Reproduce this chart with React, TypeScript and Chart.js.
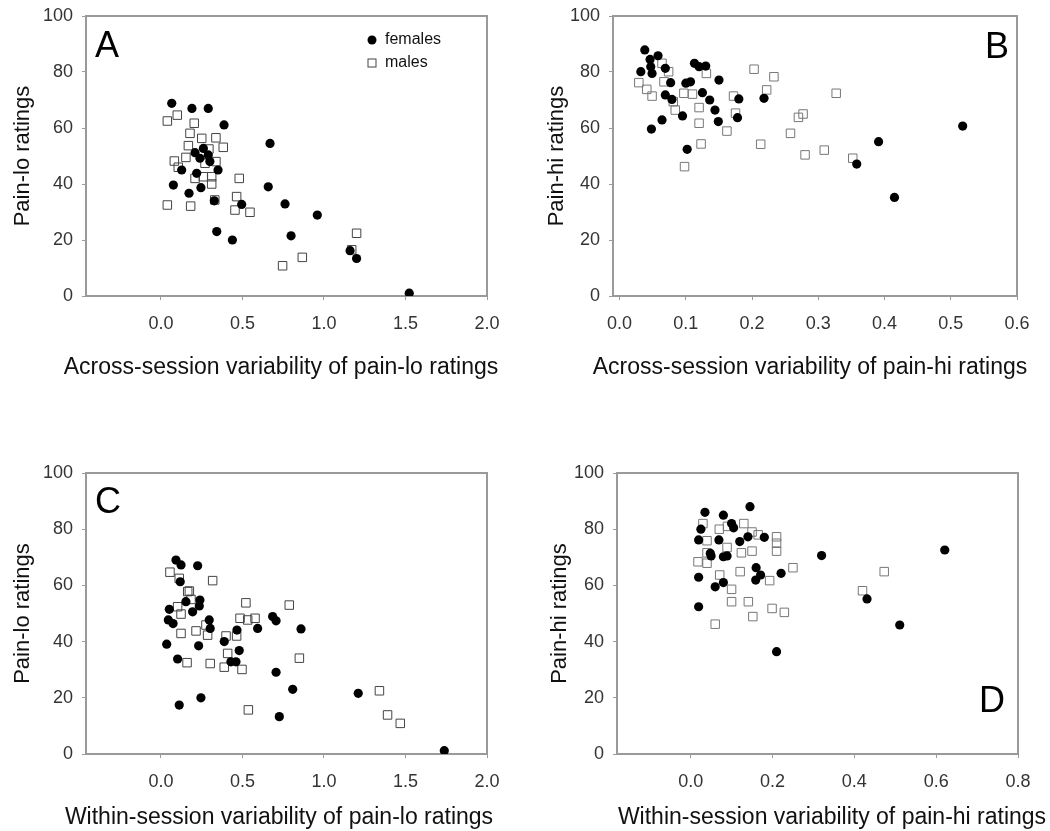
import React, { useEffect, useRef } from "react";
import { Chart, registerables } from "chart.js";

Chart.register(...registerables);

// ---------------- data ----------------
// Panel A: across-session variability of pain-lo ratings vs pain-lo ratings
const aFemX = [0.066, 0.19, 0.29, 0.387, 0.669, 0.209, 0.26, 0.239, 0.29, 0.30, 0.35, 0.127, 0.219, 0.076, 0.245, 0.172, 0.658, 0.761, 0.495, 0.342, 0.438, 0.798, 0.327, 0.959, 1.20, 1.16, 1.523];
const aFemY = [68.8, 67.0, 67.0, 61.1, 54.5, 51.2, 52.7, 49.2, 50.4, 48.0, 45.0, 45.0, 43.8, 39.6, 38.7, 36.7, 39.0, 32.9, 32.7, 23.0, 20.0, 21.5, 34.0, 28.9, 13.4, 16.2, 1.0];
const aMalX = [0.039, 0.10, 0.204, 0.178, 0.25, 0.337, 0.168, 0.294, 0.382, 0.153, 0.082, 0.106, 0.27, 0.337, 0.209, 0.26, 0.311, 0.311, 0.48, 0.464, 0.454, 0.546, 0.039, 0.182, 0.33, 0.746, 1.20, 0.867, 1.17];
const aMalY = [62.5, 64.6, 61.7, 58.1, 56.3, 56.5, 53.7, 52.5, 53.1, 49.5, 48.2, 46.0, 47.4, 48.0, 42.0, 42.6, 42.6, 40.0, 42.0, 35.5, 30.7, 29.9, 32.5, 32.1, 34.3, 10.8, 22.4, 13.8, 16.5];

// Panel B: across-session variability of pain-hi ratings vs pain-hi ratings
const bFemX = [0.038, 0.046, 0.058, 0.032, 0.047, 0.049, 0.069, 0.077, 0.069, 0.079, 0.064, 0.048, 0.095, 0.10, 0.107, 0.113, 0.12, 0.13, 0.125, 0.136, 0.144, 0.149, 0.15, 0.102, 0.18, 0.178, 0.218, 0.518, 0.391, 0.358, 0.415];
const bFemY = [87.9, 84.5, 85.8, 80.1, 81.9, 79.5, 81.3, 76.2, 71.8, 70.2, 62.9, 59.6, 64.3, 76.0, 76.5, 83.1, 81.9, 82.1, 72.6, 70.0, 66.4, 62.3, 77.1, 52.4, 70.4, 63.7, 70.6, 60.7, 55.1, 47.1, 35.2];
const bMalX = [0.029, 0.041, 0.049, 0.064, 0.074, 0.067, 0.081, 0.084, 0.097, 0.11, 0.12, 0.131, 0.12, 0.123, 0.098, 0.162, 0.172, 0.175, 0.203, 0.222, 0.233, 0.213, 0.258, 0.27, 0.277, 0.28, 0.327, 0.309, 0.352];
const bMalY = [76.2, 73.8, 71.4, 83.1, 80.1, 76.5, 69.4, 66.4, 72.4, 72.1, 67.3, 79.5, 61.7, 54.3, 46.2, 58.9, 71.4, 65.3, 81.0, 73.6, 78.3, 54.2, 58.1, 63.8, 65.0, 50.4, 72.4, 52.1, 49.2];

// Panel C: within-session variability of pain-lo ratings vs pain-lo ratings
const cFemX = [0.092, 0.123, 0.118, 0.153, 0.051, 0.045, 0.074, 0.035, 0.102, 0.112, 0.225, 0.239, 0.235, 0.194, 0.296, 0.302, 0.231, 0.388, 0.466, 0.48, 0.429, 0.46, 0.593, 0.685, 0.706, 0.706, 0.245, 0.726, 0.859, 0.808, 1.21, 1.738];
const cFemY = [69.0, 67.3, 61.3, 54.2, 51.5, 47.7, 46.4, 39.1, 33.8, 17.4, 67.0, 54.8, 52.7, 50.6, 47.7, 44.7, 38.5, 40.0, 44.1, 36.8, 32.8, 32.8, 44.7, 48.9, 47.4, 29.1, 20.0, 13.3, 44.5, 23.0, 21.6, 1.2];
const cMalX = [0.055, 0.112, 0.164, 0.102, 0.123, 0.123, 0.16, 0.317, 0.174, 0.184, 0.215, 0.276, 0.286, 0.302, 0.399, 0.464, 0.409, 0.388, 0.497, 0.485, 0.532, 0.577, 0.521, 0.787, 0.536, 0.849, 1.34, 1.39, 1.468];
const cMalY = [64.7, 62.5, 57.8, 52.4, 49.8, 42.9, 32.5, 61.7, 58.0, 55.0, 43.8, 45.9, 42.3, 32.2, 42.0, 42.0, 35.8, 30.9, 30.1, 48.3, 47.7, 48.3, 53.8, 53.0, 15.7, 34.1, 22.5, 13.9, 10.9];

// Panel D: within-session variability of pain-hi ratings vs pain-hi ratings
const dFemX = [0.0195, 0.069, 0.12, 0.14, 0.18, 0.048, 0.05, 0.08, 0.089, 0.0195, 0.06, 0.08, 0.16, 0.171, 0.159, 0.221, 0.0195, 0.21, 0.32, 0.621, 0.431, 0.511, 0.035, 0.08, 0.10, 0.145, 0.105, 0.025];
const dFemY = [76.2, 76.2, 75.6, 77.3, 77.1, 71.4, 70.5, 70.2, 70.5, 62.9, 59.5, 61.0, 66.3, 63.7, 61.9, 64.3, 52.4, 36.4, 70.6, 72.6, 55.2, 45.9, 86.0, 85.0, 82.0, 88.0, 80.5, 80.0];
const dMalX = [0.04, 0.018, 0.04, 0.04, 0.089, 0.124, 0.15, 0.21, 0.21, 0.21, 0.071, 0.121, 0.193, 0.25, 0.10, 0.10, 0.141, 0.199, 0.229, 0.152, 0.06, 0.473, 0.42, 0.03, 0.07, 0.13, 0.15, 0.165, 0.09];
const dMalY = [75.9, 68.4, 67.9, 71.6, 73.5, 71.6, 72.2, 77.3, 75.0, 72.2, 63.7, 64.9, 61.7, 66.3, 58.6, 54.2, 54.2, 51.8, 50.4, 48.9, 46.2, 64.9, 58.1, 82.0, 80.0, 82.0, 79.0, 78.0, 81.0];

const seriesLabels = ["females", "males"];
const panelLetters = ["A", "B", "C", "D"];
const xTitles = [
  "Across-session variability of pain-lo ratings",
  "Across-session variability of pain-hi ratings",
  "Within-session variability of pain-lo ratings",
  "Within-session variability of pain-hi ratings",
];
const yTitles = ["Pain-lo ratings", "Pain-hi ratings", "Pain-lo ratings", "Pain-hi ratings"];
const xTicksLo = [0.0, 0.5, 1.0, 1.5, 2.0];
const xTicksB = [0.0, 0.1, 0.2, 0.3, 0.4, 0.5, 0.6];
const xTicksD = [0.0, 0.2, 0.4, 0.6, 0.8];
const yTicks = [0, 20, 40, 60, 80, 100];

// ---------------- styling ----------------
const FONT = "'Liberation Sans', Arial, Helvetica, sans-serif";
const FRAME = "#9a9a9a";

const toPts = (xs: number[], ys: number[]) => xs.map((x, i) => ({ x, y: ys[i] }));

type Panel = {
  idx: number;
  fem: { x: number; y: number }[];
  mal: { x: number; y: number }[];
  xMin: number;
  xMax: number;
  xTicks: number[];
  canvas: { left: number; top: number; w: number; h: number };
  area: { l: number; t: number; r: number; b: number };
  letterSide: "left" | "right";
  letterBase: number;
  letterX: number;
  yTitleX: number;
  xTitleX: number;
  xTitleY: number;
  legend: boolean;
  squareColor: string;
};

const panels: Panel[] = [
  {
    idx: 0, fem: toPts(aFemX, aFemY), mal: toPts(aMalX, aMalY),
    xMin: -0.46, xMax: 2.0, xTicks: xTicksLo,
    canvas: { left: 0, top: 0, w: 525, h: 410 },
    area: { l: 86, t: 16, r: 487, b: 296 },
    letterSide: "left", letterBase: 57, letterX: 95, yTitleX: 23, xTitleX: 281, xTitleY: 368,
    legend: true, squareColor: "#444",
  },
  {
    idx: 1, fem: toPts(bFemX, bFemY), mal: toPts(bMalX, bMalY),
    xMin: -0.01, xMax: 0.6, xTicks: xTicksB,
    canvas: { left: 525, top: 0, w: 525, h: 410 },
    area: { l: 613, t: 16, r: 1017, b: 296 },
    letterSide: "right", letterBase: 58, letterX: 1009, yTitleX: 557, xTitleX: 810, xTitleY: 368,
    legend: false, squareColor: "#777",
  },
  {
    idx: 2, fem: toPts(cFemX, cFemY), mal: toPts(cMalX, cMalY),
    xMin: -0.46, xMax: 2.0, xTicks: xTicksLo,
    canvas: { left: 0, top: 415, w: 525, h: 416 },
    area: { l: 86, t: 473, r: 487, b: 754 },
    letterSide: "left", letterBase: 513, letterX: 95, yTitleX: 23, xTitleX: 279, xTitleY: 818,
    legend: false, squareColor: "#444",
  },
  {
    idx: 3, fem: toPts(dFemX, dFemY), mal: toPts(dMalX, dMalY),
    xMin: -0.18, xMax: 0.8, xTicks: xTicksD,
    canvas: { left: 525, top: 415, w: 525, h: 416 },
    area: { l: 617, t: 473, r: 1018, b: 754 },
    letterSide: "right", letterBase: 712, letterX: 1005, yTitleX: 560, xTitleX: 832, xTitleY: 818,
    legend: false, squareColor: "#777",
  },
];

const decoPlugin = {
  id: "deco",
  afterDraw(chart: any, _args: any, opts: any) {
    const { ctx, chartArea: a } = chart;
    ctx.save();
    // top and right sides of the frame
    ctx.strokeStyle = FRAME;
    ctx.lineWidth = 2;
    ctx.beginPath();
    ctx.moveTo(a.left - 1, a.top);
    ctx.lineTo(a.right, a.top);
    ctx.lineTo(a.right, a.bottom + 1);
    ctx.stroke();
    // panel letter
    ctx.fillStyle = "#000";
    ctx.font = `36px ${FONT}`;
    ctx.textBaseline = "alphabetic";
    ctx.textAlign = opts.letterSide === "left" ? "left" : "right";
    ctx.fillText(opts.letter, opts.letterX, opts.letterBase);
    // x-axis title (drawn without width compression)
    ctx.font = `23px ${FONT}`;
    ctx.fillStyle = "#111";
    ctx.textAlign = "center";
    ctx.textBaseline = "middle";
    ctx.fillText(opts.xTitle, opts.xTitleX, opts.xTitleY);
    // legend
    if (opts.legend) {
      const lx = a.left + 286;
      const ly1 = a.top + 24;
      const ly2 = a.top + 47;
      ctx.fillStyle = "#000";
      ctx.beginPath();
      ctx.arc(lx, ly1, 4.5, 0, Math.PI * 2);
      ctx.fill();
      ctx.strokeStyle = opts.squareColor;
      ctx.lineWidth = 1;
      ctx.strokeRect(lx - 4, ly2 - 4, 8, 8);
      ctx.font = `16px ${FONT}`;
      ctx.textAlign = "left";
      ctx.textBaseline = "middle";
      ctx.fillStyle = "#111";
      ctx.fillText(seriesLabels[0], lx + 13, ly1);
      ctx.fillText(seriesLabels[1], lx + 13, ly2);
    }
    ctx.restore();
  },
};

function PanelChart({ p }: { p: Panel }) {
  const ref = useRef<HTMLCanvasElement | null>(null);
  useEffect(() => {
    if (!ref.current) return;
    const c = p.canvas;
    const l = p.area.l - c.left;
    const t = p.area.t - c.top;
    const r = p.area.r - c.left;
    const b = p.area.b - c.top;
    const yTitleSize = 22;
    const yHalf = (yTitleSize * 1.2) / 2;
    const yTitlePadTop = Math.max(0, p.yTitleX - c.left - yHalf);

    const chart = new Chart(ref.current, {
      type: "scatter",
      data: {
        datasets: [
          {
            label: seriesLabels[0],
            data: p.fem,
            pointStyle: "circle",
            pointRadius: 4.6,
            backgroundColor: "#000",
            borderColor: "#000",
            borderWidth: 0,
          },
          {
            label: seriesLabels[1],
            data: p.mal,
            pointStyle: "rect",
            pointRadius: 6,
            backgroundColor: "rgba(255,255,255,0)",
            borderColor: p.squareColor,
            borderWidth: 1,
          },
        ],
      },
      options: {
        animation: false,
        responsive: false,
        maintainAspectRatio: false,
        events: [],
        layout: { padding: { left: 0, top: t, right: c.w - r, bottom: 0 } },
        plugins: {
          legend: { display: false },
          tooltip: { enabled: false },
          deco: {
            letter: panelLetters[p.idx],
            letterSide: p.letterSide,
            letterX: p.letterX - c.left,
            letterBase: p.letterBase - c.top,
            xTitle: xTitles[p.idx],
            xTitleX: p.xTitleX - c.left,
            xTitleY: p.xTitleY - c.top,
            legend: p.legend,
            squareColor: p.squareColor,
          },
        } as any,
        scales: {
          x: {
            type: "linear",
            min: p.xMin,
            max: p.xMax,
            afterBuildTicks: (s: any) => {
              s.ticks = p.xTicks.map((v) => ({ value: v }));
            },
            afterFit: (s: any) => {
              s.height = c.h - b;
              s.paddingLeft = 0;
              s.paddingRight = 0;
            },
            grid: { display: true, drawOnChartArea: false, drawTicks: true, tickLength: 4, color: FRAME, lineWidth: 1 },
            border: { display: true, color: FRAME, width: 2 },
            ticks: {
              font: { size: 18, family: FONT },
              color: "#333",
              padding: 13,
              maxRotation: 0,
              callback: (v: any) => Number(v).toFixed(1),
            },
            title: { display: false },
          },
          y: {
            type: "linear",
            min: 0,
            max: 100,
            afterBuildTicks: (s: any) => {
              s.ticks = yTicks.map((v) => ({ value: v }));
            },
            afterFit: (s: any) => {
              s.width = l;
              s.paddingTop = 0;
              s.paddingBottom = 0;
            },
            grid: { display: true, drawOnChartArea: false, drawTicks: true, tickLength: 4, color: FRAME, lineWidth: 1 },
            border: { display: true, color: FRAME, width: 2 },
            ticks: {
              font: { size: 18, family: FONT },
              color: "#333",
              padding: 9,
              callback: (v: any) => String(v),
            },
            title: {
              display: true,
              text: yTitles[p.idx],
              font: { size: yTitleSize, family: FONT },
              color: "#111",
              padding: { top: yTitlePadTop, bottom: 0 },
            },
          },
        },
      },
      plugins: [decoPlugin],
    } as any);
    return () => chart.destroy();
  }, [p]);

  return (
    <canvas
      ref={ref}
      width={p.canvas.w}
      height={p.canvas.h}
      style={{
        position: "absolute",
        left: p.canvas.left,
        top: p.canvas.top,
        width: p.canvas.w,
        height: p.canvas.h,
      }}
    />
  );
}

export default function App() {
  return (
    <div style={{ position: "absolute", left: 0, top: 0, width: 1050, height: 831, background: "#fff", overflow: "hidden" }}>
      {panels.map((p) => (
        <PanelChart key={p.idx} p={p} />
      ))}
    </div>
  );
}
